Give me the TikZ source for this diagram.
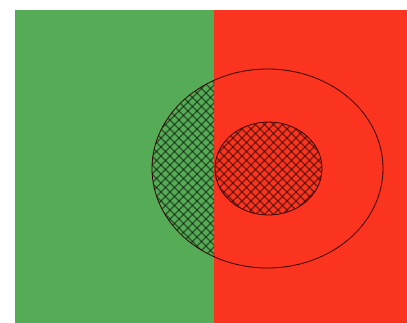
\documentclass[tikz,border=0pt]{standalone}
\begin{document}
\begin{tikzpicture}[x=1pt,y=-1pt]
\definecolor{fieldgreen}{RGB}{86,172,86}
\definecolor{fieldred}{RGB}{250,52,30}
\tikzset{hatchline/.style={black,opacity=0.5,line width=1.3pt},
         rim/.style={draw=black!80!red,line width=0.8pt}}
\useasboundingbox (0,0) rectangle (407,323);
\fill[white] (0,0) rectangle (407,323);
\fill[fieldgreen] (15,10) rectangle (214,323);
\fill[fieldred] (214,10) rectangle (407,323);
% hatched part of outer ellipse over green
\begin{scope}
  \clip (15,10) rectangle (214,323);
  \clip (267.5,168.5) ellipse [x radius=115.5, y radius=99.5];
  \foreach \i in {-400,-391,...,700} {
    \draw[hatchline] (\i,0) -- ++(330,330);
    \draw[hatchline] (\i,330) -- ++(330,-330);
  }
\end{scope}
% hatched inner ellipse
\begin{scope}
  \clip (268.5,168.5) ellipse [x radius=53.5, y radius=46.5];
  \foreach \i in {-400,-391,...,700} {
    \draw[hatchline] (\i,0) -- ++(330,330);
    \draw[hatchline] (\i,330) -- ++(330,-330);
  }
\end{scope}
\draw[rim] (267.5,168.5) ellipse [x radius=115.5, y radius=99.5];
\draw[rim] (268.5,168.5) ellipse [x radius=53.5, y radius=46.5];
\end{tikzpicture}
\end{document}
